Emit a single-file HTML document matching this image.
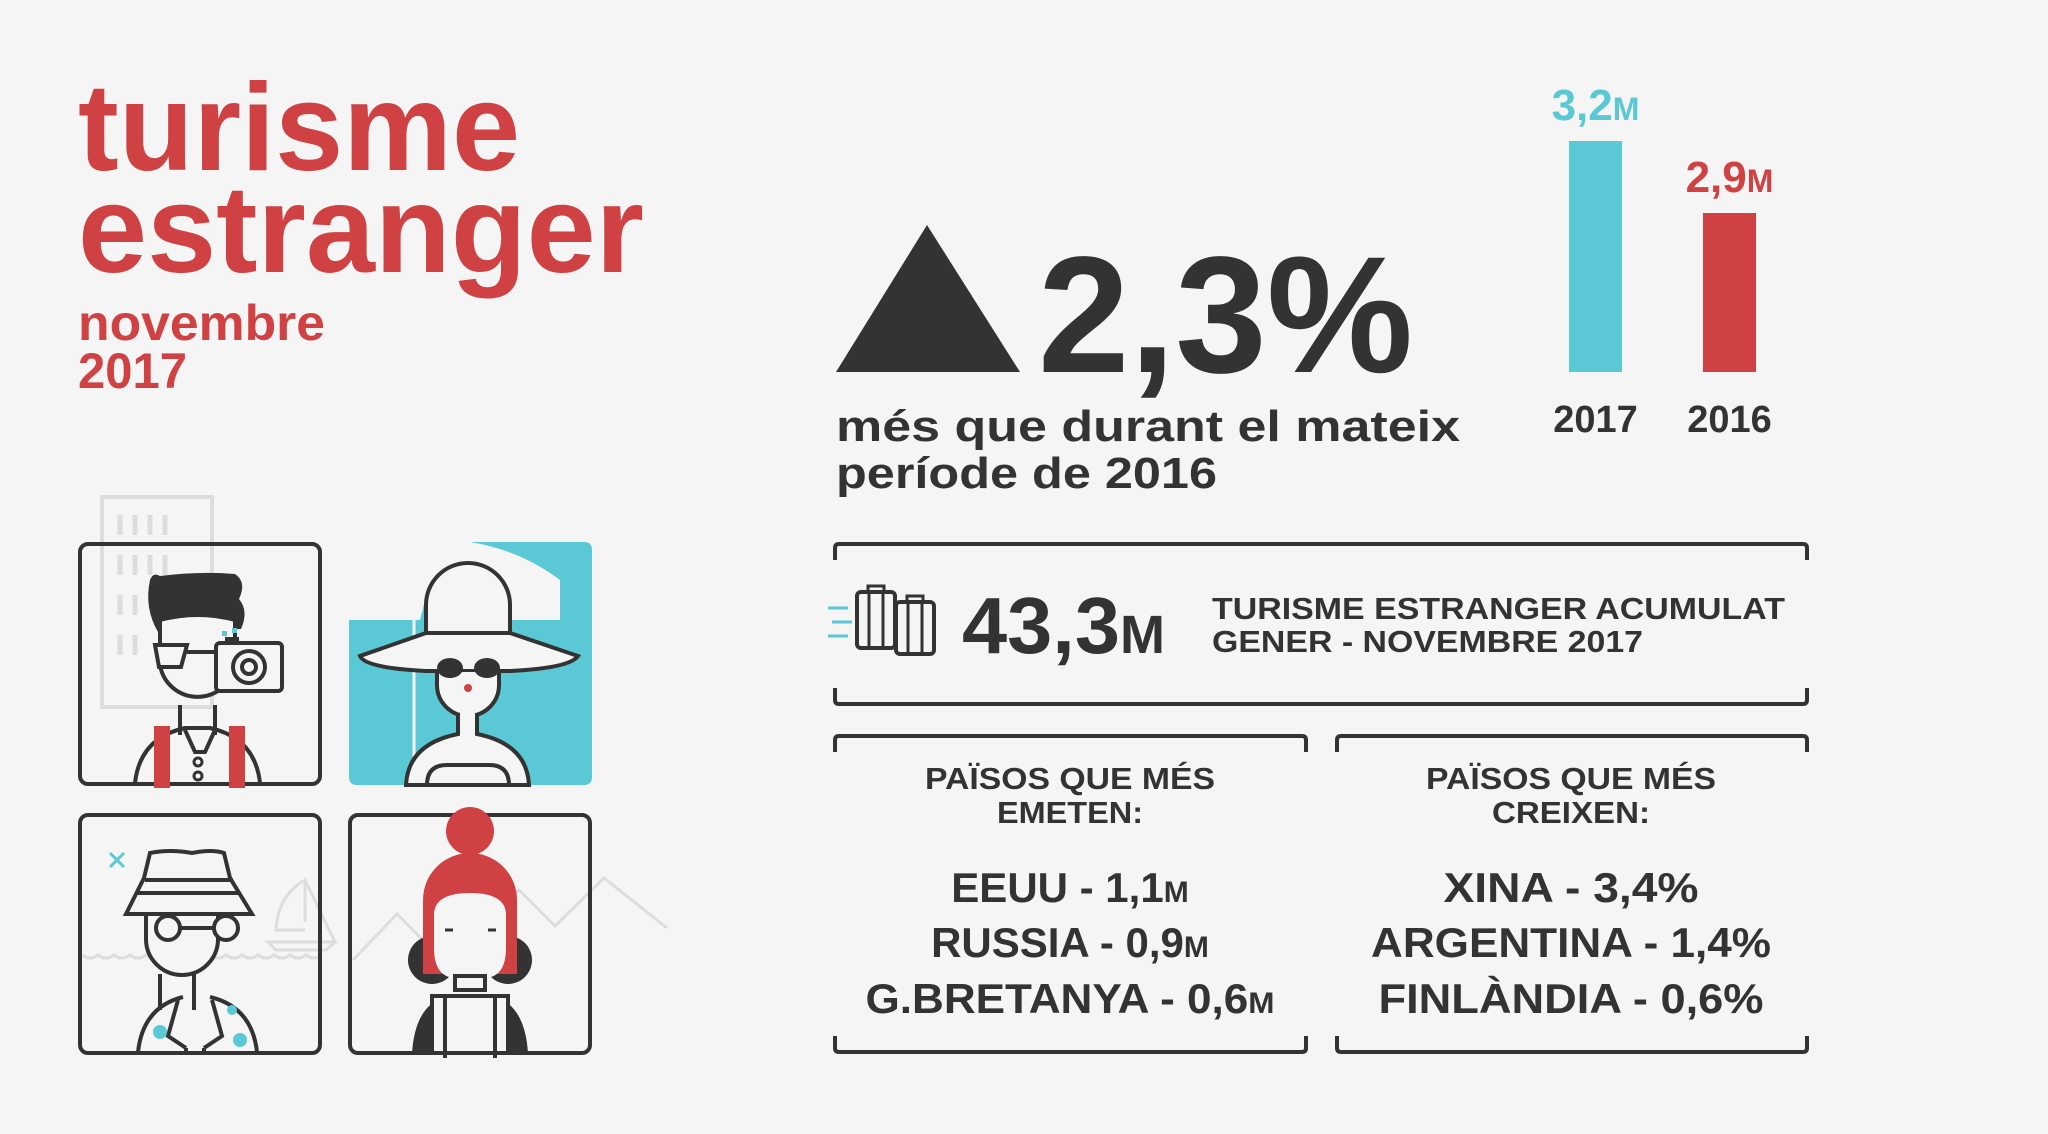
<!DOCTYPE html>
<html><head><meta charset="utf-8"><style>
html,body{margin:0;padding:0;background:#f5f5f5;}
svg{display:block;}
text{font-family:"Liberation Sans",sans-serif;font-weight:bold;}
</style></head><body>
<svg id="chart" width="2048" height="1134" viewBox="0 0 2048 1134" xmlns="http://www.w3.org/2000/svg">
<rect width="2048" height="1134" fill="#f5f5f5"/>
<g fill="#d04143">
<text x="78" y="170" font-size="124" textLength="442" lengthAdjust="spacingAndGlyphs">turisme</text>
<text x="78" y="272" font-size="124" textLength="566" lengthAdjust="spacingAndGlyphs">estranger</text>
<text x="78" y="340" font-size="50" textLength="247" lengthAdjust="spacingAndGlyphs">novembre</text>
<text x="78" y="388" font-size="50" textLength="109" lengthAdjust="spacingAndGlyphs">2017</text>
</g>
<polygon points="836,372 927,225 1020,372" fill="#333"/>
<text x="1038" y="372" font-size="166" fill="#333" textLength="375" lengthAdjust="spacingAndGlyphs">2,3%</text>
<text x="836" y="441" font-size="44" fill="#333" textLength="624" lengthAdjust="spacingAndGlyphs">més que durant el mateix</text>
<text x="836" y="488" font-size="44" fill="#333" textLength="381" lengthAdjust="spacingAndGlyphs">període de 2016</text>
<g id="bars"></g>

<g fill="none" stroke="#333" stroke-width="4">
<path d="M835,560 V548 Q835,544 839,544 H1803 Q1807,544 1807,548 V560"/>
<path d="M835,688 V700 Q835,704 839,704 H1803 Q1807,704 1807,700 V688"/>
</g>
<g>
<line x1="828" y1="608" x2="848" y2="608" stroke="#5bc8d5" stroke-width="3"/>
<line x1="832" y1="622" x2="852" y2="622" stroke="#5bc8d5" stroke-width="3"/>
<line x1="828" y1="636" x2="848" y2="636" stroke="#5bc8d5" stroke-width="3"/>
<rect x="857" y="592" width="38" height="56" rx="4" fill="#f5f5f5" stroke="#333" stroke-width="4"/>
<rect x="896" y="602" width="38" height="52" rx="4" fill="#f5f5f5" stroke="#333" stroke-width="4"/>
<line x1="869" y1="592" x2="869" y2="648" stroke="#333" stroke-width="3"/><line x1="883" y1="592" x2="883" y2="648" stroke="#333" stroke-width="3"/>
<line x1="908" y1="602" x2="908" y2="654" stroke="#333" stroke-width="3"/><line x1="922" y1="602" x2="922" y2="654" stroke="#333" stroke-width="3"/>
<rect x="868" y="586" width="16" height="6" fill="none" stroke="#333" stroke-width="3"/>
<rect x="907" y="596" width="16" height="6" fill="none" stroke="#333" stroke-width="3"/>
</g>
<text x="962" y="653" font-size="80" fill="#333"><tspan textLength="158" lengthAdjust="spacingAndGlyphs">43,3</tspan><tspan font-size="54">M</tspan></text>
<text x="1212" y="619" font-size="31" fill="#333" textLength="573" lengthAdjust="spacingAndGlyphs">TURISME ESTRANGER ACUMULAT</text>
<text x="1212" y="652" font-size="31" fill="#333" textLength="431" lengthAdjust="spacingAndGlyphs">GENER - NOVEMBRE 2017</text>

<g fill="none" stroke="#333" stroke-width="4">
<path d="M835,752 V740 Q835,736 839,736 H1302 Q1306,736 1306,740 V752"/>
<path d="M835,1036 V1048 Q835,1052 839,1052 H1302 Q1306,1052 1306,1048 V1036"/>
</g>
<g fill="none" stroke="#333" stroke-width="4">
<path d="M1337,752 V740 Q1337,736 1341,736 H1803 Q1807,736 1807,740 V752"/>
<path d="M1337,1036 V1048 Q1337,1052 1341,1052 H1803 Q1807,1052 1807,1048 V1036"/>
</g>
<g fill="#333" text-anchor="middle">
<text x="1070" y="789" font-size="31" textLength="290" lengthAdjust="spacingAndGlyphs">PAÏSOS QUE MÉS</text>
<text x="1070" y="823" font-size="31" textLength="146" lengthAdjust="spacingAndGlyphs">EMETEN:</text>
<text x="1070" y="902" font-size="42">EEUU - 1,1<tspan font-size="30">M</tspan></text>
<text x="1070" y="957" font-size="42">RUSSIA - 0,9<tspan font-size="30">M</tspan></text>
<text x="1070" y="1013" font-size="42" textLength="409" lengthAdjust="spacingAndGlyphs">G.BRETANYA - 0,6<tspan font-size="30">M</tspan></text>
</g>
<g fill="#333" text-anchor="middle">
<text x="1571" y="789" font-size="31" textLength="290" lengthAdjust="spacingAndGlyphs">PAÏSOS QUE MÉS</text>
<text x="1571" y="823" font-size="31" textLength="158" lengthAdjust="spacingAndGlyphs">CREIXEN:</text>
<text x="1571" y="902" font-size="42" textLength="255" lengthAdjust="spacingAndGlyphs">XINA - 3,4%</text>
<text x="1571" y="957" font-size="42" textLength="400" lengthAdjust="spacingAndGlyphs">ARGENTINA - 1,4%</text>
<text x="1571" y="1013" font-size="42" textLength="385" lengthAdjust="spacingAndGlyphs">FINLÀNDIA - 0,6%</text>
</g>

<!-- illustrations -->
<g fill="none" stroke="#ddd" stroke-width="4">
<rect x="102" y="497" width="110" height="210"/>
<g stroke-width="5"><path d="M120,515v20M135,515v20M150,515v20M165,515v20M120,555v20M135,555v20M150,555v20M165,555v20M120,595v20M135,595v20M120,635v20M135,635v20"/></g>
</g>
<g fill="none" stroke="#ddd" stroke-width="3">
<path d="M353,960 L397,914 L445,962 L519,890 L555,926 L604,878 L667,928"/>
<path d="M305,922 V880 Q278,895 276,930 H305 M305,880 L335,942 H268 L276,950 H326 L335,942"/>
<path d="M82,955 q8,6 16,0 q8,6 16,0 q8,6 16,0 q8,6 16,0 q8,6 16,0 q8,6 16,0 q8,6 16,0 q8,6 16,0 q8,6 16,0 q8,6 16,0 q8,6 16,0 q8,6 16,0 q8,6 16,0 q8,6 16,0 q8,6 16,0"/>
</g>
<g>
<rect x="80" y="544" width="240" height="240" rx="8" fill="none" stroke="#333" stroke-width="4"/>
<path d="M150,580 q3,-8 10,-4 q40,-5 75,-2 q12,8 4,25 q10,12 2,30 L158,632 q-14,-24 -8,-52z" fill="#333"/>
<path d="M160,620 q38,-10 75,0 v45 a38,38 0 0 1 -75,0z" fill="#f5f5f5" stroke="#333" stroke-width="4"/>
<path d="M155,645 h32 l-6,22 h-22z" fill="#f5f5f5" stroke="#333" stroke-width="4"/>
<line x1="187" y1="652" x2="215" y2="652" stroke="#333" stroke-width="4"/>
<rect x="216" y="643" width="66" height="48" rx="4" fill="#f5f5f5" stroke="#333" stroke-width="4"/>
<rect x="225" y="637" width="14" height="7" fill="#333"/>
<circle cx="249" cy="667" r="16" fill="none" stroke="#333" stroke-width="4"/><circle cx="249" cy="667" r="7" fill="none" stroke="#333" stroke-width="4"/>
<rect x="222" y="631" width="5" height="5" fill="#5bc8d5"/><rect x="232" y="628" width="5" height="5" fill="#5bc8d5"/>
<path d="M180,705 v30 M215,705 v30" stroke="#333" stroke-width="4"/>
<path d="M135,783 q5,-45 50,-55 h25 q45,10 50,55" fill="none" stroke="#333" stroke-width="4"/>
<path d="M185,730 l10,22 h10 l10,-22" fill="none" stroke="#333" stroke-width="4"/>
<circle cx="198" cy="762" r="4" fill="none" stroke="#333" stroke-width="3"/><circle cx="198" cy="776" r="4" fill="none" stroke="#333" stroke-width="3"/>
<rect x="154" y="726" width="16" height="62" fill="#d04143"/><rect x="229" y="726" width="16" height="62" fill="#d04143"/>
</g>
<g>
<path d="M357,542 H584 q8,0 8,8 V777 q0,8 -8,8 H357 q-8,0 -8,-8 V620 H420 L425,600 L430,620 L560,620 V580 Q520,550 470,542z" fill="#5bc8d5"/>
<line x1="414" y1="602" x2="414" y2="785" stroke="#f5f5f5" stroke-width="3"/>
<path d="M426,635 v-30 a42,42 0 0 1 84,0 v30z" fill="#f5f5f5" stroke="#333" stroke-width="4"/>
<path d="M426,633 L360,656 Q365,668 426,671 H510 Q570,668 578,656 L510,633z" fill="#f5f5f5" stroke="#333" stroke-width="4"/>
<path d="M437,672 v13 a31,31 0 0 0 62,0 v-13" fill="#f5f5f5" stroke="#333" stroke-width="4"/>
<ellipse cx="450" cy="668" rx="13" ry="10" fill="#333"/><ellipse cx="487" cy="668" rx="13" ry="10" fill="#333"/>
<circle cx="468" cy="688" r="4" fill="#d04143"/>
<path d="M458,713 v21 q-50,10 -52,51 h123 q-2,-41 -52,-51 v-21" fill="#f5f5f5" stroke="#333" stroke-width="4"/>
<path d="M427,785 q0,-20 20,-20 h42 q20,0 20,20" fill="none" stroke="#333" stroke-width="4"/>
</g>
<g>
<rect x="80" y="815" width="240" height="238" rx="8" fill="none" stroke="#333" stroke-width="4"/>
<path d="M110,853 l14,14 M124,853 l-14,14" stroke="#5bc8d5" stroke-width="3"/>
<path d="M160,974 v36 M194,974 v36" stroke="#333" stroke-width="4"/>
<path d="M138,1052 q5,-45 45,-55 M210,997 q42,10 47,55" fill="none" stroke="#333" stroke-width="4"/>
<path d="M178,1000 l-10,36 l18,12 M212,1000 l10,36 l-18,12 M186,1048 v5 M204,1048 v5" fill="none" stroke="#333" stroke-width="4"/>
<circle cx="160" cy="1032" r="7" fill="#5bc8d5"/><circle cx="240" cy="1040" r="7" fill="#5bc8d5"/><circle cx="232" cy="1010" r="5" fill="#5bc8d5"/>
<path d="M146,914 v25 a36,36 0 0 0 72,0 v-25" fill="#f5f5f5" stroke="#333" stroke-width="4"/>
<path d="M150,853 q20,-4 42,0 q20,-4 32,0 l6,25 l22,36 h-126 l18,-36z" fill="#f5f5f5" stroke="#333" stroke-width="4"/>
<line x1="145" y1="880" x2="233" y2="880" stroke="#333" stroke-width="4"/><line x1="138" y1="893" x2="240" y2="893" stroke="#333" stroke-width="4"/>
<circle cx="168" cy="928" r="12" fill="#f5f5f5" stroke="#333" stroke-width="4"/>
<circle cx="226" cy="928" r="12" fill="#f5f5f5" stroke="#333" stroke-width="4"/>
<line x1="180" y1="928" x2="214" y2="928" stroke="#333" stroke-width="4"/>
</g>
<g>
<rect x="350" y="815" width="240" height="238" rx="8" fill="none" stroke="#333" stroke-width="4"/>
<circle cx="470" cy="831" r="24" fill="#d04143"/>
<circle cx="432" cy="960" r="24" fill="#333"/><circle cx="508" cy="960" r="24" fill="#333"/>
<path d="M412,1053 q3,-45 30,-55 h56 q27,10 30,55z" fill="#333"/>
<path d="M423,974 V900 a47,47 0 0 1 94,0 V974z" fill="#d04143"/>
<path d="M434,974 V915 q0,-22 36,-22 q36,0 36,22 V948 q0,28 -20,30 h-32 q-20,-2 -20,-30z" fill="#f5f5f5"/>
<path d="M445,930 h8 M488,930 h8" stroke="#333" stroke-width="3"/>
<rect x="455" y="976" width="30" height="14" fill="#f5f5f5" stroke="#333" stroke-width="4"/>
<rect x="432" y="996" width="76" height="57" fill="#f5f5f5" stroke="#333" stroke-width="4"/>
<line x1="445" y1="996" x2="445" y2="1058" stroke="#333" stroke-width="4"/><line x1="495" y1="996" x2="495" y2="1058" stroke="#333" stroke-width="4"/>
</g>
</svg>
<script>
const years = ["2017", "2016"];
const values = [3.2, 2.9];
const valueLabels = ["3,2", "2,9"];
const barColors = ["#5bc8d5", "#d04143"];
const NS = "http://www.w3.org/2000/svg";
const baseY = 372, vMin = 2.2375, k = 240, barW = 53;
function yScale(v){ return baseY - (v - vMin) * k; }
function xScale(i){ return 1569 + i * 134; }
const g = document.getElementById("bars");
values.forEach((v, i) => {
  const x = xScale(i), y = yScale(v);
  const r = document.createElementNS(NS, "rect");
  r.setAttribute("x", x); r.setAttribute("y", y);
  r.setAttribute("width", barW); r.setAttribute("height", baseY - y);
  r.setAttribute("fill", barColors[i]);
  
  
  g.appendChild(r);
  const t = document.createElementNS(NS, "text");
  t.setAttribute("x", x + barW / 2); t.setAttribute("y", y - 21);
  t.setAttribute("text-anchor", "middle"); t.setAttribute("font-size", "44");
  t.setAttribute("fill", barColors[i]);
  t.innerHTML = valueLabels[i] + '<tspan font-size="32">M</tspan>';
  
  
  g.appendChild(t);
  const yl = document.createElementNS(NS, "text");
  yl.setAttribute("x", x + barW / 2); yl.setAttribute("y", 432);
  yl.setAttribute("text-anchor", "middle"); yl.setAttribute("font-size", "38");
  yl.setAttribute("fill", "#333");
  yl.textContent = years[i];
  
  
  g.appendChild(yl);
});
</script>
</body></html>
